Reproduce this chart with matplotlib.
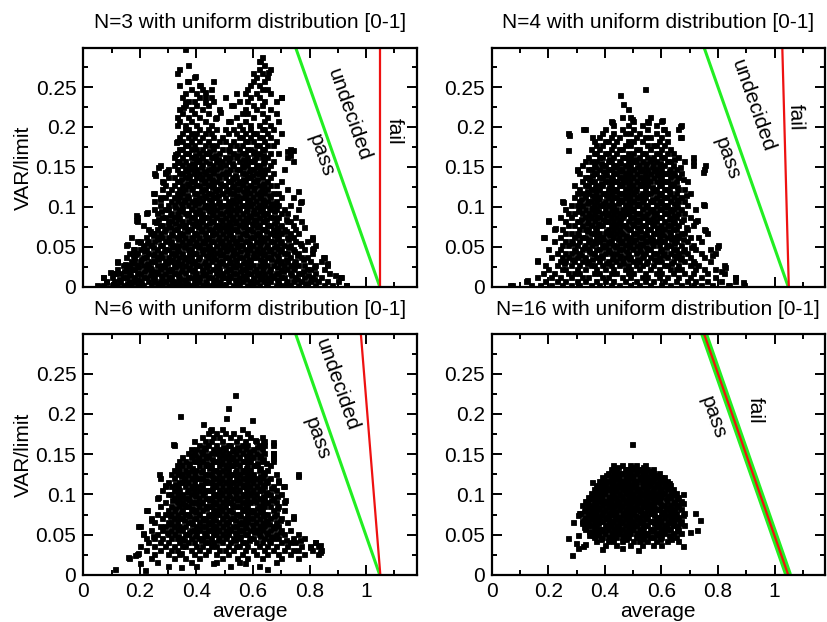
import matplotlib.pyplot as plt

plt.rcParams['font.family'] = ['Liberation Sans', 'DejaVu Sans']
plt.rcParams['font.size'] = 15

# scatter clouds, row by row: (VAR/limit, [average, ...])
n3_rows = [
    (0.002, [.05, .07, .10, .12, .14, .17, .19, .21, .24, .26, .28, .30, .33, .35, .38, .40, .42, .45, .47, .50, .53, .55, .58, .60, .62, .65, .68, .70, .73, .76, .79, .82, .85, .88, .93]),
    (0.007, [.08, .11, .13, .16, .18, .20, .23, .25, .27, .29, .32, .34, .36, .39, .41, .43, .46, .48, .51, .54, .56, .59, .61, .64, .66, .69, .72, .74, .77, .80, .83, .86, .90]),
    (0.012, [.07, .10, .14, .15, .18, .21, .22, .25, .28, .30, .31, .34, .37, .38, .41, .44, .45, .49, .50, .52, .55, .57, .60, .63, .65, .67, .70, .71, .75, .78, .81, .84, .91]),
    (0.017, [.11, .13, .16, .19, .20, .24, .26, .29, .32, .33, .36, .40, .42, .43, .47, .49, .53, .54, .58, .59, .62, .64, .68, .69, .73, .76, .77, .82, .87]),
    (0.022, [.12, .15, .17, .18, .22, .24, .27, .30, .31, .35, .37, .39, .42, .46, .48, .51, .52, .56, .57, .61, .63, .66, .70, .72, .74, .79, .80, .85]),
    (0.027, [.14, .16, .19, .21, .23, .26, .28, .32, .34, .36, .40, .41, .44, .47, .50, .53, .55, .58, .60, .62, .65, .67, .71, .73, .76, .78, .82, .86]),
    (0.032, [.12, .17, .18, .20, .24, .25, .29, .31, .33, .37, .39, .43, .45, .48, .49, .52, .54, .57, .59, .63, .64, .68, .70, .72, .75, .80, .84]),
    (0.037, [.15, .18, .21, .22, .26, .28, .30, .34, .36, .38, .41, .44, .46, .50, .51, .55, .56, .60, .61, .65, .66, .69, .73, .77, .79, .85]),
    (0.042, [.16, .19, .23, .25, .27, .31, .32, .35, .39, .40, .42, .45, .47, .49, .53, .54, .58, .60, .62, .64, .67, .71, .72, .76, .81]),
    (0.047, [.18, .20, .22, .26, .29, .30, .33, .37, .38, .42, .43, .46, .48, .51, .53, .57, .59, .61, .63, .66, .69, .70, .74, .78, .81]),
    (0.052, [.15, .21, .24, .27, .28, .32, .34, .36, .39, .41, .44, .47, .50, .52, .55, .56, .60, .62, .65, .68, .71, .73, .77, .82]),
    (0.057, [.19, .20, .23, .25, .29, .31, .35, .37, .40, .42, .45, .46, .49, .51, .54, .57, .58, .61, .64, .66, .67, .70, .75, .79]),
    (0.062, [.17, .22, .26, .28, .30, .33, .36, .38, .41, .43, .44, .48, .50, .53, .55, .59, .60, .63, .65, .69, .72, .74, .81]),
    (0.067, [.24, .25, .27, .31, .34, .35, .39, .40, .43, .46, .47, .49, .52, .56, .57, .61, .62, .66, .68, .70, .73, .76]),
    (0.072, [.23, .26, .29, .32, .33, .37, .38, .42, .44, .45, .48, .51, .53, .54, .58, .59, .63, .64, .67, .69, .71, .75]),
    (0.077, [.21, .27, .28, .30, .34, .36, .39, .41, .43, .47, .48, .50, .52, .55, .57, .60, .62, .65, .66, .70, .74]),
    (0.082, [.19, .25, .30, .31, .35, .37, .40, .42, .45, .46, .49, .51, .54, .56, .58, .61, .63, .64, .68, .72, .73, .77]),
    (0.087, [.19, .28, .29, .32, .34, .38, .39, .43, .44, .47, .50, .53, .55, .57, .59, .62, .66, .67, .69, .75]),
    (0.092, [.22, .26, .31, .33, .36, .37, .40, .42, .46, .48, .49, .52, .54, .56, .60, .61, .64, .65, .70, .72]),
    (0.097, [.25, .29, .30, .34, .35, .38, .41, .44, .45, .47, .51, .53, .55, .58, .60, .63, .66, .68, .71, .76]),
    (0.102, [.27, .30, .32, .35, .37, .39, .43, .44, .46, .49, .50, .52, .56, .57, .59, .62, .64, .67, .69, .73]),
    (0.107, [.25, .31, .33, .36, .38, .40, .42, .45, .48, .51, .53, .55, .58, .61, .63, .65, .68, .77]),
    (0.112, [.27, .29, .32, .34, .37, .41, .43, .46, .47, .50, .54, .56, .57, .60, .62, .66, .70, .74]),
    (0.117, [.25, .30, .33, .35, .39, .40, .44, .45, .49, .52, .53, .57, .59, .61, .64, .67, .69]),
    (0.122, [.28, .31, .34, .36, .38, .42, .43, .47, .48, .51, .54, .55, .58, .60, .63, .65, .72]),
    (0.127, [.29, .32, .35, .37, .40, .41, .44, .46, .49, .50, .53, .56, .59, .62, .64, .66, .68]),
    (0.132, [.28, .33, .34, .38, .39, .43, .45, .47, .51, .52, .55, .57, .60, .61, .65, .70]),
    (0.137, [.30, .32, .36, .37, .40, .42, .44, .48, .50, .53, .54, .58, .59, .63, .66]),
    (0.142, [.25, .29, .34, .35, .39, .41, .43, .46, .49, .51, .56, .57, .61, .62, .64, .67]),
    (0.147, [.30, .33, .36, .38, .40, .44, .45, .47, .52, .54, .55, .59, .60, .63, .65, .71]),
    (0.152, [.27, .32, .35, .37, .39, .42, .46, .48, .50, .53, .56, .58, .61, .62, .66]),
    (0.157, [.33, .34, .36, .40, .41, .43, .47, .49, .51, .55, .57, .59, .60, .64, .67, .74]),
    (0.162, [.32, .35, .38, .39, .42, .45, .46, .50, .52, .54, .58, .61, .63, .65, .72]),
    (0.167, [.33, .36, .37, .41, .43, .44, .48, .53, .56, .57, .60, .62, .66, .69]),
    (0.172, [.34, .35, .38, .40, .42, .46, .49, .51, .55, .58, .59, .63, .64, .73]),
    (0.177, [.36, .37, .39, .43, .45, .47, .52, .54, .56, .61, .62, .65, .67]),
    (0.182, [.33, .35, .38, .41, .44, .48, .50, .53, .57, .58, .60, .64, .68]),
    (0.187, [.34, .37, .39, .42, .46, .49, .55, .56, .59, .62, .63, .66]),
    (0.192, [.35, .38, .40, .43, .45, .51, .54, .57, .60, .61, .65, .70]),
    (0.197, [.36, .37, .41, .44, .47, .50, .53, .56, .59, .63, .64, .67]),
    (0.202, [.33, .36, .40, .45, .55, .59, .62, .66]),
    (0.207, [.34, .38, .43, .52, .57, .64, .69]),
    (0.212, [.33, .37, .41, .47, .54, .60, .65]),
    (0.217, [.35, .39, .44, .56, .58, .63, .68]),
    (0.222, [.34, .38, .42, .48, .57, .61, .66]),
    (0.227, [.36, .40, .44, .53, .60, .63]),
    (0.232, [.37, .39, .46, .55, .58, .64, .68]),
    (0.237, [.35, .41, .43, .50, .59, .62, .70]),
    (0.242, [.36, .40, .57, .61, .66]),
    (0.247, [.38, .42, .45, .58, .63, .65]),
    (0.252, [.34, .41, .59, .62]),
    (0.257, [.37, .46, .60, .64]),
    (0.262, [.39, .61, .65]),
    (0.267, [.33, .60, .63]),
    (0.272, [.34, .62, .66]),
    (0.277, [.37, .64]),
    (0.282, [.62]),
    (0.287, [.63]),
    (0.298, [.36]),
]
# points in between the rows where the cloud is densest
n3_fill = [
    (0.0045, [.155, .205, .265, .315, .365, .435, .485, .545, .595, .645, .715, .785]),
    (0.0095, [.125, .185, .245, .305, .355, .395, .465, .535, .575, .625, .685, .755, .815]),
    (0.0145, [.165, .235, .275, .335, .395, .425, .475, .515, .565, .615, .665, .735, .795]),
    (0.0195, [.145, .215, .255, .305, .345, .385, .445, .505, .555, .605, .655, .705, .775]),
    (0.0245, [.195, .235, .285, .325, .375, .435, .475, .535, .585, .635, .685, .745, .815]),
    (0.0295, [.175, .225, .295, .345, .385, .425, .485, .515, .565, .635, .695, .745]),
    (0.0345, [.205, .265, .315, .355, .405, .465, .535, .585, .625, .665, .715, .775]),
    (0.0395, [.175, .245, .325, .375, .435, .485, .525, .575, .635, .685, .755]),
    (0.0445, [.215, .285, .335, .375, .445, .505, .555, .615, .655, .695, .745]),
    (0.0495, [.245, .315, .355, .405, .445, .495, .545, .585, .645, .675, .725]),
    (0.0545, [.225, .305, .375, .425, .485, .535, .585, .625, .695, .765]),
    (0.0595, [.265, .335, .385, .435, .475, .525, .555, .625, .685, .725]),
    (0.0645, [.245, .315, .345, .395, .455, .515, .575, .615, .675]),
    (0.0695, [.285, .365, .415, .455, .505, .545, .595, .645, .715]),
    (0.0745, [.305, .355, .405, .465, .495, .565, .615, .685]),
    (0.0795, [.325, .385, .445, .515, .535, .595, .675]),
    (0.0845, [.265, .335, .415, .485, .525, .605, .645, .715]),
    (0.0895, [.305, .365, .415, .455, .515, .585, .635]),
    (0.0945, [.345, .395, .445, .505, .575, .625, .675]),
    (0.0995, [.325, .425, .485, .545, .615, .655]),
    (0.1045, [.345, .405, .475, .535, .595, .665]),
    (0.1095, [.355, .395, .445, .525, .585, .635]),
    (0.1145, [.365, .425, .475, .545, .625, .655]),
    (0.1195, [.345, .415, .465, .505, .565, .625]),
    (0.1245, [.385, .455, .525, .575, .605]),
    (0.1295, [.365, .425, .485, .545, .635]),
    (0.1345, [.345, .415, .455, .525, .565, .615]),
    (0.1395, [.375, .445, .475, .535, .595]),
    (0.1445, [.365, .425, .505, .585, .625]),
    (0.1495, [.415, .485, .565, .615]),
    (0.1545, [.385, .445, .525, .635]),
    (0.1595, [.405, .475, .565, .605]),
    (0.1645, [.395, .465, .545, .635]),
    (0.1695, [.445, .515, .605]),
]
n3_extra_x = [.053, .082, .112, .147, .153, .188, .188, .224, .247, .253, .289, .264, .297, .282, .270, .276, .258, .235, .199, .176, .182, .120, .093, .070, .329, .323, .335, .352, .358, .394, .365, .411, .431, .452, .429, .482, .511, .523, .541, .464, .624, .654, .700, .742, .766, .807, .813, .848, .907, .930, .730, .720, .760, .780, .860, .890]
n3_extra_y = [.001, .006, .017, .029, .054, .083, .090, .094, .117, .140, .144, .150, .145, .131, .110, .095, .081, .070, .056, .047, .041, .031, .019, .012, .181, .166, .156, .225, .231, .264, .257, .252, .244, .238, .231, .219, .208, .227, .243, .211, .283, .269, .2375, .171, .106, .060, .048, .0375, .0125, .002, .165, .170, .120, .075, .030, .015]

n4_rows = [
    (0.002, [.07, .14, .17, .21, .25, .28, .31, .35, .38, .42, .45, .49, .52, .56, .60, .63, .67, .71, .74, .78, .84, .89]),
    (0.007, [.12, .19, .23, .26, .30, .33, .37, .40, .43, .47, .51, .54, .57, .61, .65, .69, .72, .76, .81, .86]),
    (0.012, [.16, .21, .24, .28, .32, .34, .39, .41, .46, .49, .53, .55, .59, .62, .66, .70, .74, .79, .86]),
    (0.017, [.18, .22, .27, .29, .31, .36, .38, .42, .44, .48, .50, .54, .58, .60, .64, .68, .71, .76, .82]),
    (0.022, [.20, .25, .26, .30, .33, .37, .40, .43, .47, .49, .52, .56, .59, .63, .65, .67, .72, .75, .79]),
    (0.027, [.19, .23, .28, .31, .35, .36, .39, .42, .45, .48, .51, .53, .57, .61, .62, .66, .70, .73, .82]),
    (0.032, [.16, .24, .26, .29, .32, .34, .38, .41, .44, .46, .50, .52, .55, .58, .60, .64, .68, .71, .77]),
    (0.037, [.21, .25, .27, .30, .33, .37, .39, .43, .45, .47, .49, .53, .56, .59, .62, .65, .67, .70, .75]),
    (0.042, [.23, .26, .28, .31, .35, .36, .40, .42, .44, .48, .51, .54, .57, .58, .61, .63, .66, .69, .74, .79]),
    (0.047, [.20, .24, .29, .32, .34, .37, .38, .41, .45, .46, .50, .52, .55, .56, .60, .64, .65, .68, .72, .77]),
    (0.052, [.25, .27, .30, .33, .35, .39, .40, .43, .44, .47, .49, .51, .53, .57, .59, .62, .63, .67, .71, .80]),
    (0.057, [.22, .26, .28, .31, .34, .36, .38, .41, .42, .46, .48, .50, .54, .55, .58, .60, .61, .65, .69, .74]),
    (0.062, [.18, .24, .29, .32, .33, .37, .39, .43, .45, .47, .49, .52, .53, .56, .59, .62, .64, .66, .70, .73]),
    (0.067, [.26, .28, .30, .35, .36, .38, .40, .42, .44, .46, .50, .51, .54, .57, .58, .60, .63, .67, .68, .76]),
    (0.072, [.22, .25, .31, .33, .34, .37, .41, .43, .45, .48, .49, .52, .55, .56, .59, .61, .64, .65, .69, .75]),
    (0.077, [.27, .29, .32, .35, .38, .39, .42, .44, .46, .47, .50, .53, .54, .57, .60, .62, .63, .66, .71]),
    (0.082, [.20, .26, .30, .31, .34, .36, .40, .41, .43, .45, .48, .51, .52, .55, .56, .58, .61, .64, .67, .72]),
    (0.087, [.24, .28, .33, .35, .37, .38, .42, .44, .46, .49, .50, .53, .54, .57, .59, .60, .63, .65, .70]),
    (0.092, [.27, .29, .32, .34, .36, .39, .41, .43, .45, .47, .48, .51, .52, .55, .58, .61, .62, .66, .68]),
    (0.097, [.26, .31, .33, .35, .37, .40, .42, .44, .46, .48, .50, .53, .56, .57, .59, .60, .63, .64, .67, .72]),
    (0.102, [.28, .30, .32, .36, .38, .39, .41, .43, .47, .49, .51, .52, .54, .55, .58, .61, .62, .65, .69, .75]),
    (0.107, [.25, .31, .34, .35, .37, .40, .42, .45, .46, .48, .50, .53, .56, .57, .59, .60, .63, .66, .68]),
    (0.112, [.29, .33, .36, .38, .41, .43, .44, .47, .49, .51, .52, .54, .58, .61, .62, .64, .67]),
    (0.117, [.30, .32, .34, .37, .39, .40, .42, .45, .46, .48, .50, .53, .55, .56, .59, .60, .63, .65, .70]),
    (0.122, [.31, .35, .36, .38, .41, .43, .44, .47, .49, .51, .54, .57, .58, .61, .62, .66, .68]),
    (0.127, [.29, .33, .34, .37, .39, .42, .45, .46, .48, .50, .52, .53, .55, .59, .60, .63, .64]),
    (0.132, [.32, .35, .36, .40, .41, .43, .44, .47, .49, .51, .54, .56, .58, .61, .62, .65, .69]),
    (0.137, [.33, .34, .38, .39, .42, .45, .46, .48, .50, .52, .53, .55, .57, .60, .63, .66]),
    (0.142, [.31, .36, .37, .40, .43, .44, .47, .49, .51, .54, .56, .59, .61, .62, .64, .67]),
    (0.147, [.30, .34, .35, .38, .41, .42, .45, .46, .48, .50, .53, .55, .58, .60, .63, .65, .75]),
    (0.152, [.32, .36, .39, .40, .43, .44, .47, .49, .52, .54, .57, .59, .61, .64, .71]),
    (0.157, [.33, .35, .37, .41, .42, .45, .48, .50, .51, .53, .56, .58, .62, .63, .68]),
    (0.162, [.34, .38, .39, .43, .46, .47, .49, .52, .55, .57, .60, .61, .66, .71]),
    (0.167, [.36, .37, .40, .41, .44, .48, .50, .53, .54, .58, .59, .62, .64]),
    (0.172, [.35, .38, .42, .45, .46, .51, .52, .56, .60, .63]),
    (0.177, [.37, .39, .43, .47, .49, .55, .57, .58, .61]),
    (0.182, [.36, .40, .41, .44, .48, .50, .53, .59, .62]),
    (0.187, [.38, .42, .45, .51, .54, .56, .60, .67]),
    (0.192, [.27, .39, .43, .47, .49, .52, .58, .62]),
    (0.197, [.33, .40, .46, .50, .55, .61, .66]),
    (0.202, [.43, .48, .53, .58, .67]),
    (0.207, [.42, .50, .55, .60]),
    (0.212, [.46, .49, .56]),
]
n4_fill = [
    (0.0295, [.255, .335, .405, .465, .545, .635, .715]),
    (0.0345, [.285, .355, .425, .485, .515, .575, .665]),
    (0.0395, [.315, .385, .455, .535, .605, .645]),
    (0.0445, [.295, .345, .415, .475, .525, .595, .675]),
    (0.0495, [.325, .395, .435, .485, .545, .615, .705]),
    (0.0545, [.285, .365, .415, .455, .525, .565, .645]),
    (0.0595, [.345, .395, .445, .505, .565, .635, .675]),
    (0.0645, [.305, .375, .415, .475, .545, .605, .655]),
    (0.0695, [.335, .405, .455, .525, .585, .625]),
    (0.0745, [.365, .435, .475, .515, .585, .685]),
    (0.0795, [.335, .375, .445, .495, .565, .645]),
    (0.0845, [.315, .395, .455, .515, .555, .625, .675]),
    (0.0895, [.345, .405, .465, .535, .575, .645]),
    (0.0945, [.305, .375, .435, .495, .565, .635]),
    (0.0995, [.355, .425, .475, .545, .615, .655]),
    (0.1045, [.335, .395, .445, .515, .595, .645]),
    (0.1095, [.315, .375, .455, .535, .565, .655]),
    (0.1145, [.355, .405, .475, .525, .595, .685]),
    (0.1195, [.335, .435, .505, .575, .625]),
    (0.1245, [.365, .415, .485, .565, .655]),
    (0.1295, [.385, .455, .525, .595, .635]),
    (0.1345, [.345, .425, .465, .535, .595, .675]),
    (0.1395, [.355, .405, .475, .585, .645]),
    (0.1445, [.395, .455, .525, .575, .625]),
    (0.1495, [.365, .435, .515, .565, .665]),
    (0.1545, [.385, .455, .545, .595]),
    (0.1595, [.415, .505, .565, .645]),
]
n4_extra_x = [.542, .453, .465, .483, .424, .495, .554, .601, .665, .324, .274, .353, .665, .606, .271, .300, .253, .200, .183, .159, .124, .065, .224, .713, .754, .748, .748, .724, .754, .795, .824, .860, .889, .836, .780, .810]
n4_extra_y = [.247, .240, .229, .223, .206, .210, .206, .209, .201, .198, .190, .1875, .1875, .198, .171, .146, .106, .083, .0625, .033, .009, .002, .073, .158, .152, .144, .103, .083, .071, .050, .025, .0125, .006, .002, .040, .020]

n6_rows = [
    (0.011, [.30, .40, .52, .62]),
    (0.016, [.26, .38, .47, .55, .68]),
    (0.021, [.16, .24, .32, .36, .41, .49, .58, .63, .70, .76]),
    (0.026, [.19, .25, .30, .34, .39, .43, .47, .51, .56, .61, .65, .69, .73, .78, .83]),
    (0.031, [.22, .27, .31, .33, .38, .41, .44, .48, .50, .53, .57, .60, .64, .67, .71, .74, .76, .81, .84]),
    (0.036, [.20, .25, .29, .32, .35, .36, .40, .42, .45, .47, .51, .54, .55, .58, .62, .65, .68, .72, .77, .80, .83]),
    (0.041, [.23, .27, .30, .34, .37, .39, .43, .44, .46, .49, .52, .56, .57, .61, .63, .66, .70, .73, .75, .82]),
    (0.046, [.22, .25, .28, .31, .33, .35, .38, .41, .42, .45, .48, .50, .53, .55, .59, .60, .64, .67, .69, .74, .78]),
    (0.051, [.21, .26, .30, .32, .36, .37, .40, .43, .46, .47, .49, .51, .54, .57, .58, .62, .65, .68, .71, .76]),
    (0.056, [.24, .28, .31, .33, .35, .38, .39, .41, .44, .45, .48, .50, .52, .55, .56, .59, .61, .63, .66, .70, .73]),
    (0.061, [.20, .27, .29, .32, .34, .36, .40, .42, .43, .46, .47, .49, .53, .54, .57, .60, .62, .64, .67, .69]),
    (0.066, [.25, .30, .31, .33, .37, .38, .41, .44, .45, .48, .50, .51, .55, .56, .58, .61, .63, .65, .68, .72]),
    (0.071, [.24, .28, .32, .34, .35, .39, .40, .42, .43, .46, .49, .52, .53, .57, .59, .60, .62, .66, .70, .74]),
    (0.076, [.26, .29, .31, .33, .36, .37, .41, .44, .45, .47, .48, .50, .54, .55, .58, .61, .64, .65, .68]),
    (0.081, [.22, .30, .32, .35, .38, .39, .40, .42, .46, .47, .49, .51, .52, .56, .57, .59, .60, .63, .67, .71]),
    (0.086, [.27, .31, .34, .36, .37, .41, .43, .44, .45, .48, .50, .53, .54, .55, .58, .62, .64, .66, .69]),
    (0.091, [.29, .33, .35, .38, .39, .40, .42, .46, .47, .49, .51, .52, .56, .57, .59, .61, .63, .65, .68, .71]),
    (0.096, [.26, .32, .34, .36, .37, .41, .43, .44, .45, .48, .50, .53, .55, .58, .60, .62, .64, .67]),
    (0.101, [.30, .31, .33, .35, .38, .40, .42, .46, .47, .49, .51, .54, .56, .57, .59, .61, .65, .66, .70]),
    (0.106, [.28, .32, .34, .37, .39, .41, .43, .44, .45, .48, .50, .52, .53, .55, .58, .60, .62, .63, .68]),
    (0.111, [.29, .31, .33, .36, .38, .40, .42, .46, .47, .49, .51, .54, .56, .57, .59, .61, .64, .67, .71]),
    (0.116, [.30, .34, .35, .37, .39, .43, .44, .45, .48, .50, .52, .53, .55, .58, .60, .62, .65, .69]),
    (0.121, [.27, .32, .36, .38, .40, .41, .42, .46, .47, .49, .51, .54, .56, .57, .59, .61, .63, .66]),
    (0.126, [.31, .33, .35, .37, .39, .43, .44, .45, .48, .50, .52, .53, .55, .58, .60, .64, .68, .76]),
    (0.131, [.32, .34, .36, .38, .40, .42, .46, .47, .49, .51, .54, .56, .57, .59, .62, .65]),
    (0.136, [.33, .35, .37, .41, .43, .44, .45, .48, .50, .52, .53, .55, .58, .60, .61, .66]),
    (0.141, [.34, .36, .39, .40, .42, .46, .47, .49, .51, .54, .56, .57, .59, .63, .67]),
    (0.146, [.35, .38, .41, .43, .44, .48, .50, .52, .53, .55, .58, .60, .62, .67]),
    (0.151, [.37, .39, .42, .45, .47, .49, .51, .54, .56, .59, .61, .64, .67]),
    (0.156, [.38, .40, .43, .46, .48, .50, .53, .55, .57, .60, .63]),
    (0.161, [.32, .41, .44, .47, .51, .52, .56, .58, .62, .64, .67]),
    (0.166, [.39, .43, .45, .49, .54, .57, .61, .64]),
    (0.171, [.42, .46, .48, .52, .55, .59, .63]),
    (0.176, [.44, .47, .50, .53, .58]),
    (0.181, [.45, .49, .56]),
]
n6_fill = [
    (0.0435, [.355, .415, .475, .535, .585, .655, .715]),
    (0.0485, [.335, .395, .435, .505, .555, .625, .665]),
    (0.0535, [.295, .375, .425, .465, .535, .605, .645, .695]),
    (0.0585, [.345, .405, .465, .515, .575, .625, .675]),
    (0.0635, [.305, .385, .445, .505, .555, .595, .655]),
    (0.0685, [.355, .425, .465, .535, .575, .645, .695]),
    (0.0735, [.305, .375, .445, .505, .555, .635, .675]),
    (0.0785, [.345, .395, .465, .525, .595, .625]),
    (0.0835, [.325, .385, .435, .485, .565, .615, .685]),
    (0.0885, [.355, .405, .465, .525, .575, .635]),
    (0.0935, [.315, .375, .445, .505, .545, .605, .665]),
    (0.0985, [.345, .395, .465, .515, .565, .635, .685]),
    (0.1035, [.365, .425, .485, .535, .595, .645]),
    (0.1085, [.335, .385, .455, .525, .575, .625, .665]),
    (0.1135, [.325, .415, .465, .515, .565, .635]),
    (0.1185, [.355, .435, .485, .545, .595, .645]),
    (0.1235, [.345, .395, .455, .515, .585, .625]),
    (0.1285, [.365, .415, .475, .535, .565, .635]),
    (0.1335, [.385, .445, .505, .575, .625]),
    (0.1385, [.375, .435, .485, .535, .615, .645]),
    (0.1435, [.405, .455, .525, .585, .635]),
    (0.1485, [.395, .435, .495, .575, .625]),
    (0.1535, [.415, .475, .525, .585]),
    (0.1585, [.425, .495, .545, .615]),
]
n6_extra_x = [.536, .512, .506, .342, .595, .424, .448, .318, .607, .636, .671, .671, .671, .383, .760, .112, .218, .159, .183, .200, .194, .194, .224, .269, .289, .265, .241, .212, .247, .689, .707, .713, .742, .766, .836, .836, .800, .819, .648, .571, .542, .459, .347, .347]
n6_extra_y = [.224, .207, .195, .198, .192, .188, .180, .1625, .168, .165, .165, .152, .145, .149, .123, .007, .006, .022, .025, .0145, .027, .061, .081, .126, .112, .097, .068, .052, .048, .118, .110, .093, .073, .0435, .037, .029, .035, .041, .008, .0145, .021, .0145, .0104, .027]

n16_rows = [
    (0.037, [.40, .44, .49, .53, .57, .60]),
    (0.042, [.37, .41, .43, .46, .50, .52, .55, .58, .62, .66]),
    (0.047, [.36, .39, .41, .44, .46, .48, .51, .53, .56, .57, .60, .63, .65]),
    (0.052, [.35, .37, .40, .42, .44, .45, .47, .49, .51, .54, .55, .58, .59, .61, .64, .67]),
    (0.057, [.33, .36, .38, .39, .41, .43, .45, .46, .48, .50, .52, .53, .56, .57, .60, .62, .63, .66]),
    (0.062, [.34, .35, .37, .40, .41, .42, .44, .47, .49, .50, .51, .54, .55, .58, .59, .61, .64, .65, .68]),
    (0.067, [.32, .34, .36, .38, .39, .42, .43, .45, .46, .48, .50, .52, .53, .56, .57, .59, .60, .62, .64, .67]),
    (0.072, [.33, .35, .37, .38, .40, .41, .44, .45, .47, .49, .51, .52, .54, .55, .58, .59, .61, .63, .65, .66]),
    (0.077, [.31, .34, .36, .37, .39, .41, .42, .44, .46, .47, .49, .50, .53, .54, .56, .57, .60, .61, .63, .65, .68]),
    (0.082, [.33, .35, .36, .38, .40, .42, .43, .45, .47, .48, .50, .51, .52, .55, .56, .58, .59, .62, .63, .64, .67]),
    (0.087, [.32, .34, .35, .37, .39, .41, .43, .44, .46, .48, .49, .51, .53, .54, .56, .57, .60, .61, .63, .65, .66]),
    (0.092, [.33, .36, .38, .39, .40, .42, .44, .45, .47, .49, .50, .52, .53, .55, .57, .58, .59, .62, .64, .67]),
    (0.097, [.34, .35, .37, .39, .41, .43, .44, .46, .48, .49, .51, .52, .54, .56, .57, .59, .60, .62, .63, .66]),
    (0.102, [.35, .37, .38, .40, .42, .43, .45, .47, .48, .50, .52, .53, .55, .56, .58, .60, .61, .64, .65]),
    (0.107, [.36, .38, .39, .41, .42, .44, .46, .47, .49, .51, .52, .54, .55, .57, .59, .60, .62, .64]),
    (0.112, [.37, .39, .40, .42, .44, .45, .47, .48, .50, .51, .53, .55, .56, .58, .59, .61, .63]),
    (0.117, [.38, .40, .41, .43, .45, .46, .48, .50, .51, .53, .54, .56, .57, .59, .61, .62]),
    (0.122, [.39, .42, .43, .45, .47, .48, .50, .52, .53, .55, .57, .58, .60, .61]),
    (0.127, [.41, .43, .45, .46, .48, .49, .51, .53, .54, .56, .57, .59]),
    (0.132, [.42, .44, .47, .48, .50, .52, .53, .55, .57]),
    (0.137, [.43, .46, .49, .51, .54]),
]
n16_fill = [
    (0.0445, [.385, .425, .475, .535, .595, .635]),
    (0.0495, [.345, .375, .425, .465, .525, .545, .585, .625]),
    (0.0545, [.345, .385, .435, .475, .525, .565, .605, .655]),
    (0.0595, [.325, .365, .405, .445, .495, .535, .585, .615, .655]),
    (0.0645, [.335, .375, .415, .455, .485, .525, .575, .625, .665]),
    (0.0695, [.325, .355, .405, .435, .475, .515, .545, .585, .635, .655]),
    (0.0745, [.345, .385, .425, .465, .505, .535, .575, .615, .645, .675]),
    (0.0795, [.325, .355, .395, .435, .485, .525, .565, .605, .645]),
    (0.0845, [.345, .375, .415, .455, .495, .535, .575, .615, .655]),
    (0.0895, [.335, .365, .405, .445, .475, .515, .555, .595, .645, .675]),
    (0.0945, [.345, .375, .415, .465, .505, .545, .585, .615, .655]),
    (0.0995, [.355, .385, .425, .455, .495, .535, .575, .625, .645]),
    (0.1045, [.365, .395, .435, .475, .515, .565, .595, .635]),
    (0.1095, [.375, .405, .455, .495, .535, .575, .615]),
    (0.1145, [.385, .425, .465, .505, .545, .585, .625]),
    (0.1195, [.395, .435, .475, .525, .555, .595]),
    (0.1245, [.405, .445, .495, .535, .585]),
    (0.1295, [.435, .475, .515, .565]),
    (0.1345, [.445, .495, .535]),
]
n16_extra_x = [.495, .353, .289, .271, .283, .306, .330, .312, .330, .359, .389, .459, .518, .677, .718, .736, .724, .700, .675, .298, .306, .321, .318, .306]
n16_extra_y = [.163, .115, .066, .046, .025, .033, .039, .077, .066, .050, .032, .033, .031, .036, .077, .068, .056, .054, .100, .040, .050, .036, .064, .075]

titles = ['N=3 with uniform distribution [0-1]', 'N=4 with uniform distribution [0-1]',
          'N=6 with uniform distribution [0-1]', 'N=16 with uniform distribution [0-1]']
clouds = [(n3_rows + n3_fill, n3_extra_x, n3_extra_y), (n4_rows + n4_fill, n4_extra_x, n4_extra_y),
          (n6_rows + n6_fill, n6_extra_x, n6_extra_y), (n16_rows + n16_fill, n16_extra_x, n16_extra_y)]

# pass limit (green) and fail limit (red): average at VAR/limit = 0.3 and at 0
line_y = [0.3, 0.0]
green_x = [0.75, 1.048]
red_x = [[1.05, 1.05], [1.027, 1.05], [0.981, 1.05], [0.75, 1.048]]

# region labels: (text, x, y, rotation)
labels = [
    [('undecided', 0.94, 0.215, -70.6), ('pass', 0.84, 0.164, -70.6), ('fail', 1.098, 0.194, -90)],
    [('undecided', 0.924, 0.226, -70.6), ('pass', 0.83, 0.16, -70.6), ('fail', 1.075, 0.212, -88.5)],
    [('undecided', 0.895, 0.236, -70.6), ('pass', 0.825, 0.17, -70.6)],
    [('pass', 0.783, 0.195, -70.6), ('fail', 0.93, 0.205, -90)],
]

x_ticks = [0, 0.2, 0.4, 0.6, 0.8, 1]
x_tick_labels = ['0', '0.2', '0.4', '0.6', '0.8', '1']
y_ticks = [0, 0.05, 0.1, 0.15, 0.2, 0.25]
y_tick_labels = ['0', '0.05', '0.1', '0.15', '0.2', '0.25']

fig = plt.figure(figsize=(8.27, 6.22), dpi=100)
boxes = [[0.1007, 0.539, 0.403, 0.384], [0.5946, 0.539, 0.403, 0.384],
         [0.1007, 0.0756, 0.403, 0.387], [0.5946, 0.0756, 0.403, 0.387]]

for i, box in enumerate(boxes):
    ax = fig.add_axes(box)
    rows, ex_x, ex_y = clouds[i]
    xs = [x for y, row in rows for x in row] + ex_x
    ys = [y for y, row in rows for x in row] + ex_y
    ax.plot(xs, ys, 's', color='black', markersize=3.6, markeredgewidth=0.6,
            markeredgecolor='black', snap=False)

    if i == 3:
        ax.plot(green_x, line_y, color='#22ee22', linewidth=5.5, solid_capstyle='butt')
        ax.plot(red_x[i], line_y, color='#ee1111', linewidth=1.6)
    else:
        ax.plot(green_x, line_y, color='#22ee22', linewidth=2.2)
        ax.plot(red_x[i], line_y, color='#ee1111', linewidth=1.6)

    for txt, tx, ty, rot in labels[i]:
        ax.text(tx, ty, txt, rotation=rot, ha='center', va='center',
                rotation_mode='anchor', fontsize=15)

    ax.set_xlim(0, 1.178)
    ax.set_ylim(0, 0.299)
    ax.set_xticks(x_ticks)
    ax.set_xticks([0.1, 0.3, 0.5, 0.7, 0.9, 1.1], minor=True)
    ax.set_yticks(y_ticks)
    ax.set_yticks([0.025, 0.075, 0.125, 0.175, 0.225, 0.275], minor=True)
    ax.set_yticklabels(y_tick_labels)
    if i >= 2:
        ax.set_xticklabels(x_tick_labels)
        ax.set_xlabel('average', labelpad=1)
    else:
        ax.set_xticklabels([])
    if i % 2 == 0:
        ax.set_ylabel('VAR/limit', labelpad=2)

    ax.tick_params(which='both', direction='in', top=True, right=True, width=1.4, labelsize=15)
    ax.tick_params(which='major', length=7, pad=5)
    ax.tick_params(which='minor', length=3.5)
    for sp in ax.spines.values():
        sp.set_linewidth(1.6)
    ax.set_title(titles[i], fontsize=15, pad=14)

fig.savefig('out.png', dpi=100)
